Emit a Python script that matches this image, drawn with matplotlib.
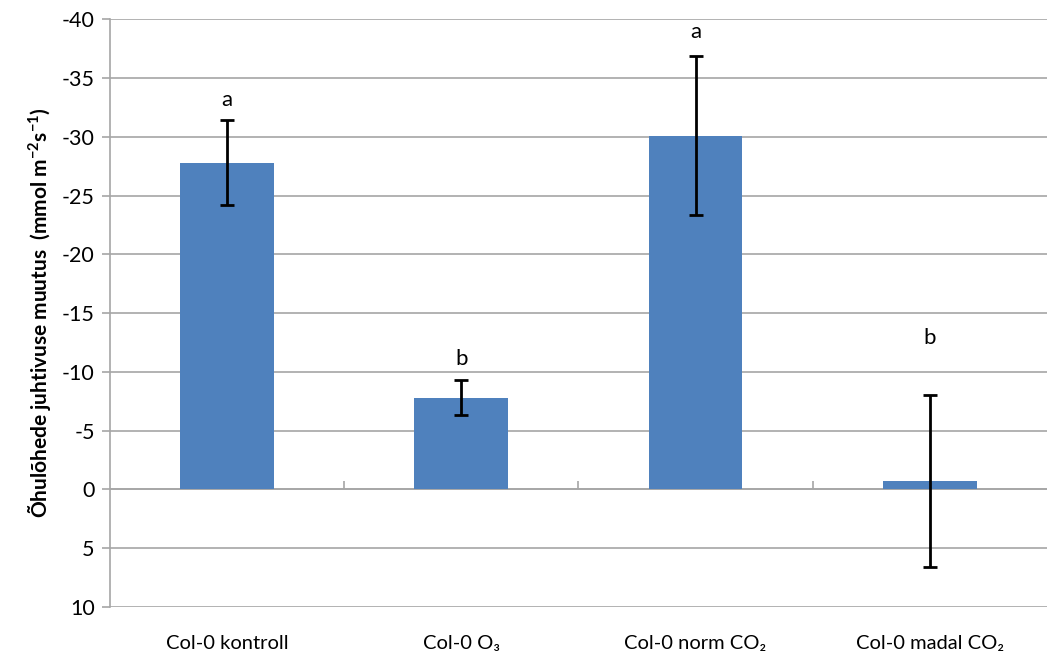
import matplotlib
matplotlib.use("Agg")
import matplotlib.pyplot as plt

categories = ['Col-0 kontroll', 'Col-0 O₃', 'Col-0 norm CO₂', 'Col-0 madal CO₂']
values = [-27.8, -7.8, -30.1, -0.7]
errors = [3.6, 1.5, 6.75, 7.3]
letters = ['a', 'b', 'a', 'b']
letter_y = [-33.1, -11.1, -38.9, -12.9]
yticks = [-40, -35, -30, -25, -20, -15, -10, -5, 0, 5, 10]

plt.rcParams['font.family'] = ['Lato', 'DejaVu Sans']
plt.rcParams['mathtext.fontset'] = 'custom'
plt.rcParams['mathtext.rm'] = 'Lato:bold'
plt.rcParams['mathtext.default'] = 'rm'

fig = plt.figure(figsize=(10.47, 6.63), dpi=100)
ax = fig.add_axes([0.105, 0.0845, 0.895, 0.8865])

grid_col = '#a6a6a6'
x = range(len(categories))
ax.bar(x, values, width=0.4, color='#4F81BD', zorder=3)
ax.errorbar(x, values, yerr=errors, fmt='none', ecolor='black',
            elinewidth=2, capsize=5, capthick=2, zorder=4)
for i, (t, ly) in enumerate(zip(letters, letter_y)):
    ax.text(i, ly, t, ha='center', va='center', fontsize=16, zorder=5)

ax.set_xlim(-0.5, 3.5)
ax.set_ylim(10, -40)
ax.set_yticks(yticks)
ax.set_yticklabels([str(v) for v in yticks], fontsize=15.5)
ax.yaxis.grid(True, color=grid_col, linewidth=1.2, zorder=0)

ax.set_xticks(list(x))
ax.set_xticklabels(categories, fontsize=14.5)
ax.tick_params(axis='x', length=0, pad=20)
ax.tick_params(axis='y', length=6, color=grid_col, width=1.2, pad=5)

# category separator ticks on zero line
ax.vlines([0.5, 1.5, 2.5], 0, -0.7, color=grid_col, linewidth=1.2, zorder=2)
ax.axhline(0, color=grid_col, linewidth=1.2, zorder=2)

for s in ['top', 'right', 'bottom']:
    ax.spines[s].set_visible(False)
ax.spines['left'].set_color(grid_col)
ax.spines['left'].set_linewidth(1.2)

ax.set_ylabel('Õhulõhede juhtivuse muutus  (mmol m$^{-2}$s$^{-1}$)',
              fontsize=15, fontweight='bold', labelpad=6)

fig.savefig('out.png', dpi=100)
